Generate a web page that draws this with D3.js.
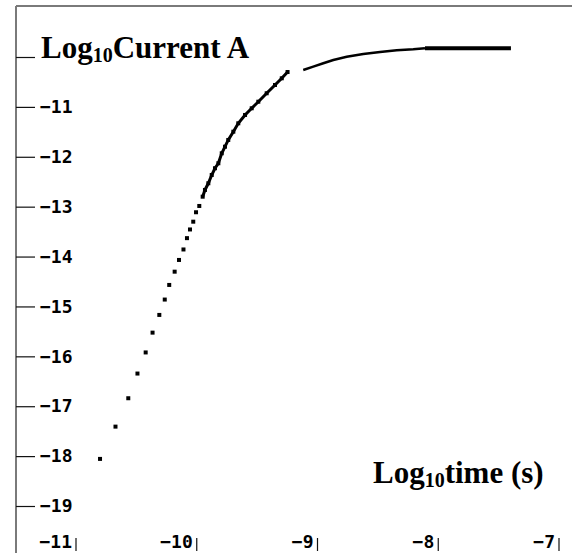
<!DOCTYPE html>
<html>
<head>
<meta charset="utf-8">
<script src="https://cdn.jsdelivr.net/npm/d3@7"></script>
<style>
  html, body { margin: 0; padding: 0; background: #fff; }
  svg { display: block; }
</style>
</head>
<body>
<div id="chart"></div>
<script>
// Log10 current vs log10 time

const yTicks = [-10, -11, -12, -13, -14, -15, -16, -17, -18, -19];
const yTickLabels = ['', '−11', '−12', '−13', '−14', '−15', '−16', '−17', '−18', '−19'];
const xTicks = [-11, -10, -9, -8, -7];
const xTickLabels = ['−11', '−10', '−9', '−8', '−7'];

// sparse rising points
const riseT = [-10.801, -10.673, -10.567, -10.491, -10.423, -10.366, -10.310, -10.265, -10.228,
  -10.183, -10.147, -10.110, -10.081, -10.056, -10.029, -10.006, -9.979];
const riseI = [-18.056, -17.409, -16.840, -16.345, -15.922, -15.525, -15.170, -14.862, -14.569,
  -14.303, -14.068, -13.858, -13.631, -13.457, -13.301, -13.112, -12.986];

// dense knee of the curve
const kneeT = [-9.951, -9.932, -9.904, -9.876, -9.849, -9.821, -9.793, -9.766, -9.739, -9.697,
  -9.656, -9.600, -9.545, -9.490, -9.421, -9.352, -9.296, -9.248];
const kneeI = [-12.800, -12.665, -12.531, -12.365, -12.230, -12.130, -11.930, -11.798, -11.663, -11.497,
  -11.329, -11.162, -11.028, -10.896, -10.727, -10.561, -10.427, -10.301];

// saturating plateau
const plateauT = [-9.118, -9.035, -8.952, -8.869, -8.758, -8.621, -8.482, -8.344, -8.207,
  -8.110, -7.944, -7.737, -7.571, -7.398];
const plateauI = [-10.261, -10.194, -10.126, -10.060, -9.994, -9.940, -9.900, -9.866, -9.846,
  -9.826, -9.826, -9.826, -9.826, -9.826];

const W = 572, H = 553;
const FRAME = { left: 16, top: 6 };
const TICK_FONT = '"DejaVu Sans Mono", monospace';

const svg = d3.select('#chart').append('svg')
  .attr('width', W).attr('height', H);

const x = d3.scaleLinear().domain([-11, -7]).range([76, 559]);
const y = d3.scaleLinear().domain([-10, -19]).range([57, 506]);

// frame (left + top)
svg.append('line')
  .attr('x1', FRAME.left).attr('x2', FRAME.left)
  .attr('y1', FRAME.top).attr('y2', H)
  .attr('stroke', '#7a7a7a').attr('stroke-width', 2);
svg.append('line')
  .attr('x1', FRAME.left).attr('x2', W)
  .attr('y1', FRAME.top).attr('y2', FRAME.top)
  .attr('stroke', '#7a7a7a').attr('stroke-width', 2);

// y axis: ticks pointing inward with labels just after them
const yAxis = d3.axisRight(y)
  .tickValues(yTicks)
  .tickSize(19)
  .tickPadding(5)
  .tickFormat((d, i) => yTickLabels[i]);

const gy = svg.append('g')
  .attr('transform', `translate(${FRAME.left},0)`)
  .call(yAxis);
gy.select('.domain').remove();
gy.selectAll('.tick line').attr('stroke', '#111').attr('stroke-width', 1.2);
gy.selectAll('.tick text')
  .attr('fill', '#000')
  .style('font-family', TICK_FONT)
  .style('font-weight', 'bold')
  .style('font-size', '18px');

// x axis: short vertical bars with the labels to their left
const gx = svg.append('g');
xTicks.forEach((t, i) => {
  gx.append('line')
    .attr('x1', x(t)).attr('x2', x(t))
    .attr('y1', 538).attr('y2', 551)
    .attr('stroke', '#111').attr('stroke-width', 1.2);
  gx.append('text')
    .attr('x', x(t) - 4).attr('y', 541)
    .attr('text-anchor', 'end')
    .attr('dominant-baseline', 'central')
    .style('font-family', TICK_FONT)
    .style('font-weight', 'bold')
    .style('font-size', '18px')
    .text(xTickLabels[i]);
});

// data marks
const line = d3.line().x((d) => x(d[0])).y((d) => y(d[1]));
const knee = kneeT.map((t, i) => [t, kneeI[i]]);
const plateau = plateauT.map((t, i) => [t, plateauI[i]]);
const rise = riseT.map((t, i) => [t, riseI[i]]);

svg.append('path').datum(knee)
  .attr('d', line).attr('fill', 'none')
  .attr('stroke', '#000').attr('stroke-width', 3);
svg.append('path').datum(plateau.slice(0, 10))
  .attr('d', line).attr('fill', 'none')
  .attr('stroke', '#000').attr('stroke-width', 2.5);
svg.append('path').datum(plateau.slice(9))
  .attr('d', line).attr('fill', 'none')
  .attr('stroke', '#000').attr('stroke-width', 4);

svg.append('g').selectAll('rect')
  .data(rise.concat(knee))
  .join('rect')
  .attr('x', (d) => x(d[0]) - 2)
  .attr('y', (d) => y(d[1]) - 2)
  .attr('width', 4).attr('height', 4)
  .attr('fill', '#000');

// axis titles
function title(tx, ty, main, rest) {
  const t = svg.append('text')
    .attr('x', tx).attr('y', ty)
    .style('font-family', '"Liberation Serif", "Times New Roman", serif')
    .style('font-weight', 'bold')
    .style('font-size', '31px')
    .attr('fill', '#000');
  t.append('tspan').text(main);
  t.append('tspan').attr('dy', 4).style('font-size', '20px').text('10');
  t.append('tspan').attr('dy', -4).text(rest);
}
title(41, 58, 'Log', 'Current A');
title(373, 483, 'Log', 'time (s)');
</script>
</body>
</html>
